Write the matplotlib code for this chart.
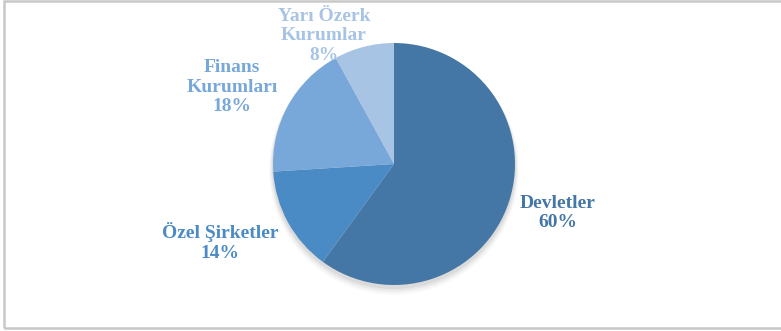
import matplotlib.pyplot as plt
from matplotlib.patches import Rectangle, Circle

# data
labels = ["Devletler", "Özel Şirketler", "Finans\nKurumları", "Yarı Özerk\nKurumlar"]
shares = [60, 14, 18, 8]
colors = ["#4577a6", "#4a8bc5", "#77a8d9", "#a8c4e4"]
text_colors = ["#4577a6", "#4a8bc5", "#77a8d9", "#a8c4e4"]

# layout (pixel coords, y measured from top, flipped below)
W, H = 781, 331
cx, cy = 394, 164
radius = 121
label_pos = [(558, 213), (220, 242), (232, 87), (324, 36)]

fig = plt.figure(figsize=(W / 100, H / 100), dpi=100)
ax = fig.add_axes([0, 0, 1, 1])
center = (cx, H - cy)

# soft shadow under the pie
for i, a in enumerate([0.05, 0.04, 0.03, 0.02]):
    ax.add_patch(Circle((center[0], center[1] - 3 - i), radius + 1 + i,
                        color="black", alpha=a, lw=0, zorder=0))

ax.pie(shares, colors=colors, startangle=90, counterclock=False,
       center=center, radius=radius, wedgeprops=dict(linewidth=0))

for lab, s, (x, y), c in zip(labels, shares, label_pos, text_colors):
    ax.text(x, H - y, f"{lab}\n{s}%", ha="center", va="center", color=c,
            fontsize=14, fontweight="bold", family="Liberation Serif",
            linespacing=1.18)

# outer border
ax.add_patch(Rectangle((4, 3), W + 10, H - 4, fill=False, ec="#c8c8c8", lw=1.8))

ax.set_xlim(0, W)
ax.set_ylim(0, H)
ax.set_aspect("equal")
ax.axis("off")

fig.savefig("out.png", dpi=100)
